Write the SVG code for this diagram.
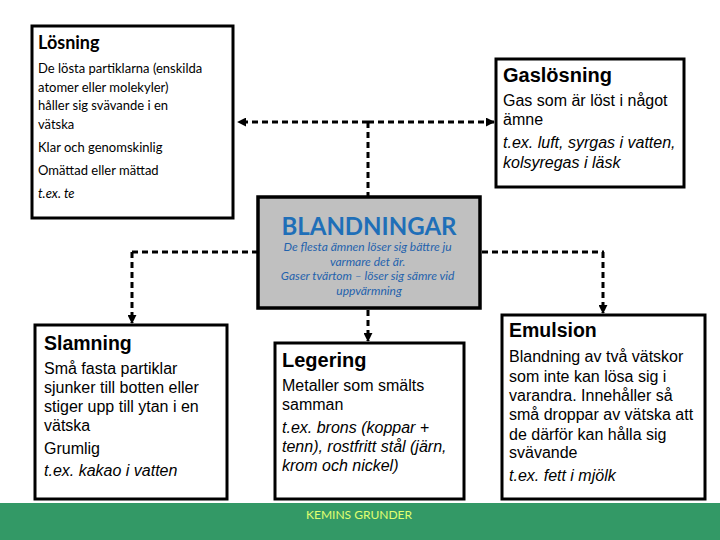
<svg xmlns="http://www.w3.org/2000/svg" width="720" height="540" viewBox="0 0 720 540">
<defs>
<style>
.box{fill:#fff;stroke:#000;stroke-width:3}
.gray{fill:#c0c0c0;stroke:#000;stroke-width:3.5}
.c{font-family:Lato,"Open Sans",sans-serif;fill:#000}
.a{font-family:"Liberation Sans",Arial,sans-serif;fill:#000}
.h{font-weight:bold}
.i{font-style:italic}
.dash{fill:none;stroke:#000;stroke-width:3;stroke-dasharray:6 4}
</style>
<marker id="arr" viewBox="0 0 10 10" refX="9" refY="5" markerWidth="3" markerHeight="3" orient="auto" markerUnits="strokeWidth">
<path d="M0,0 L10,5 L0,10 z" fill="#000"/>
</marker>
</defs>
<rect width="720" height="540" fill="#fff"/>
<g id="connectors">
<line class="dash" x1="368" y1="122" x2="238" y2="122" marker-end="url(#arr)"/>
<line class="dash" x1="368" y1="122" x2="494" y2="122" marker-end="url(#arr)"/>
<line class="dash" x1="368" y1="122" x2="368" y2="196"/>
<line class="dash" x1="132" y1="252" x2="604" y2="252"/>
<line class="dash" x1="132" y1="252" x2="132" y2="323" marker-end="url(#arr)"/>
<line class="dash" x1="603" y1="252" x2="603" y2="313" marker-end="url(#arr)"/>
<line class="dash" x1="368" y1="310" x2="368" y2="341" marker-end="url(#arr)"/>
</g>
<g id="losning">
<rect class="box" x="32" y="26" width="201" height="192"/>
<text class="c h" x="38" y="49" font-size="18">Lösning</text>
<text class="c" font-size="13">
<tspan x="38" y="73">De lösta partiklarna (enskilda</tspan>
<tspan x="38" y="92">atomer eller molekyler)</tspan>
<tspan x="38" y="110">håller sig svävande i en</tspan>
<tspan x="38" y="129">vätska</tspan>
<tspan x="38" y="152">Klar och genomskinlig</tspan>
<tspan x="38" y="175">Omättad eller mättad</tspan>
<tspan x="38" y="198" font-style="italic">t.ex. te</tspan>
</text>
</g>
<g id="gaslosning">
<rect class="box" x="496" y="59" width="188" height="128"/>
<text class="a h" x="503" y="82" font-size="20">Gaslösning</text>
<text class="a" font-size="16">
<tspan x="503" y="106">Gas som är löst i något</tspan>
<tspan x="503" y="125">ämne</tspan>
<tspan x="503" y="148" font-style="italic">t.ex. luft, syrgas i vatten,</tspan>
<tspan x="503" y="168" font-style="italic">kolsyregas i läsk</tspan>
</text>
</g>
<g id="blandningar">
<rect class="gray" x="258" y="197" width="222" height="111"/>
<text class="c h" x="369" y="235" font-size="24" text-anchor="middle" style="fill:#1f6fb8">BLANDNINGAR</text>
<text class="c i" font-size="12" text-anchor="middle" style="fill:#1f62ad">
<tspan x="369" y="251">De flesta ämnen löser sig bättre ju</tspan>
<tspan x="369" y="266">varmare det är.</tspan>
<tspan x="369" y="280">Gaser tvärtom – löser sig sämre vid</tspan>
<tspan x="369" y="295">uppvärmning</tspan>
</text>
</g>
<g id="slamning">
<rect class="box" x="35" y="325" width="192" height="174"/>
<text class="a h" x="44" y="350" font-size="19.5">Slamning</text>
<text class="a" font-size="16">
<tspan x="44" y="374">Små fasta partiklar</tspan>
<tspan x="44" y="393">sjunker till botten eller</tspan>
<tspan x="44" y="412">stiger upp till ytan i en</tspan>
<tspan x="44" y="431">vätska</tspan>
<tspan x="44" y="454">Grumlig</tspan>
<tspan x="44" y="476" font-style="italic">t.ex. kakao i vatten</tspan>
</text>
</g>
<g id="legering">
<rect class="box" x="275" y="343" width="189" height="156"/>
<text class="a h" x="282" y="367" font-size="20">Legering</text>
<text class="a" font-size="16">
<tspan x="282" y="391">Metaller som smälts</tspan>
<tspan x="282" y="410">samman</tspan>
<tspan x="282" y="433" font-style="italic">t.ex. brons (koppar +</tspan>
<tspan x="282" y="452" font-style="italic">tenn), rostfritt stål (järn,</tspan>
<tspan x="282" y="471" font-style="italic">krom och nickel)</tspan>
</text>
</g>
<g id="emulsion">
<rect class="box" x="502" y="315" width="203" height="184"/>
<text class="a h" x="509" y="337" font-size="19.5">Emulsion</text>
<text class="a" font-size="16">
<tspan x="509" y="362">Blandning av två vätskor</tspan>
<tspan x="509" y="382">som inte kan lösa sig i</tspan>
<tspan x="509" y="401">varandra. Innehåller så</tspan>
<tspan x="509" y="420">små droppar av vätska att</tspan>
<tspan x="509" y="440">de därför kan hålla sig</tspan>
<tspan x="509" y="458">svävande</tspan>
<tspan x="509" y="481" font-style="italic">t.ex. fett i mjölk</tspan>
</text>
</g>
<g id="footer">
<rect x="0" y="503" width="720" height="37" fill="#339966"/>
<text x="359" y="519" font-size="12" text-anchor="middle" font-family="Lato,'Open Sans',sans-serif" fill="#e0ff70">KEMINS GRUNDER</text>
</g>
</svg>
